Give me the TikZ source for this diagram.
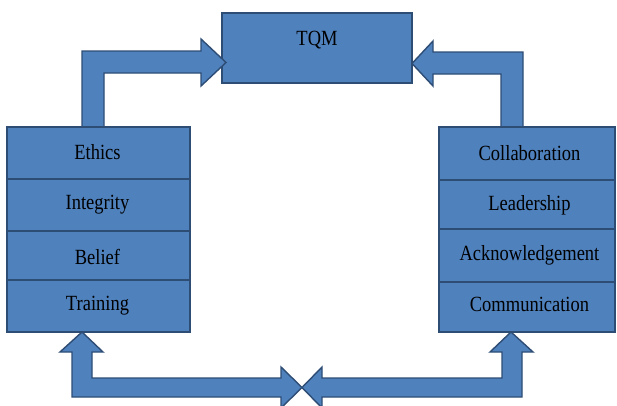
\documentclass[tikz,border=0pt]{standalone}
\usepackage{graphicx}
\usepackage{fontspec}
\setmainfont{Liberation Serif}
\definecolor{blockfill}{HTML}{4F81BD}
\definecolor{blockedge}{HTML}{2E4D75}
% labels are set slightly taller than wide
\newcommand\tallword[1]{\scalebox{1}[1.17]{#1}}
\tikzset{
  labelfont/.style={font=\fontsize{18.5}{20}\selectfont, text=black},
  box/.style={draw=blockedge, fill=blockfill, line width=1.4pt, inner sep=0pt, labelfont},
  blockarrow/.style={draw=blockedge, fill=blockfill, line width=1.4pt, line join=miter},
}
\begin{document}
\begin{tikzpicture}[x=1pt, y=-1pt]
  \useasboundingbox (0,0) rectangle (617,405);

  % top target box
  \node[box, minimum width=190pt, minimum height=70pt] (tqm) at (317,48) {};
  \node[labelfont, inner sep=0pt] (tqmtext) at (317,40) {\tallword{TQM}};

  % bent block arrows feeding the top box
  \draw[blockarrow] (82,127) -- (82,51) -- (201,51) -- (201,39) -- (226,62.5)
    -- (201,86) -- (201,73) -- (104,73) -- (104,127) -- cycle;
  \draw[blockarrow] (523,127) -- (523,52) -- (433,52) -- (433,41) -- (412,63.5)
    -- (433,86) -- (433,74) -- (501,74) -- (501,127) -- cycle;

  % bottom block arrows meeting in the middle
  \draw[blockarrow] (82,332) -- (103,352) -- (92,352) -- (92,378) -- (281,378)
    -- (281,367) -- (302,387.5) -- (281,408) -- (281,397) -- (72,397) -- (72,352)
    -- (60,352) -- cycle;
  \draw[blockarrow] (511,332) -- (533,352) -- (522,352) -- (522,397) -- (322,397)
    -- (322,408) -- (302,387.5) -- (322,367) -- (322,378) -- (502,378) -- (502,352)
    -- (490,352) -- cycle;

  % left stack
  \node[box, minimum width=183pt, minimum height=52pt] (ethics)    at (98.5,153)   {};
  \node[box, minimum width=183pt, minimum height=52pt] (integrity) at (98.5,205)   {};
  \node[box, minimum width=183pt, minimum height=49pt] (belief)    at (98.5,255.5) {};
  \node[box, minimum width=183pt, minimum height=52pt] (training)  at (98.5,306)   {};
  \node[labelfont, inner sep=0pt] at (97.5,152.5) {\tallword{Ethics}};
  \node[labelfont, inner sep=0pt] at (97.5,205)   {\tallword{Integrity}};
  \node[labelfont, inner sep=0pt] at (97.5,256.5) {\tallword{Belief}};
  \node[labelfont, inner sep=0pt] at (97.5,306)   {\tallword{Training}};

  % right stack
  \node[box, minimum width=176pt, minimum height=53pt] (collab)  at (527,153.5) {};
  \node[box, minimum width=176pt, minimum height=49pt] (leader)  at (527,204.5) {};
  \node[box, minimum width=176pt, minimum height=53pt] (ackn)    at (527,255.5) {};
  \node[box, minimum width=176pt, minimum height=50pt] (commun)  at (527,307)   {};
  \node[labelfont, inner sep=0pt] at (529.5,153) {\tallword{Collaboration}};
  \node[labelfont, inner sep=0pt] at (529.5,205) {\tallword{Leadership}};
  \node[labelfont, inner sep=0pt] at (529.5,255) {\tallword{Acknowledgement}};
  \node[labelfont, inner sep=0pt] at (529.5,304) {\tallword{Communication}};
\end{tikzpicture}
\end{document}
